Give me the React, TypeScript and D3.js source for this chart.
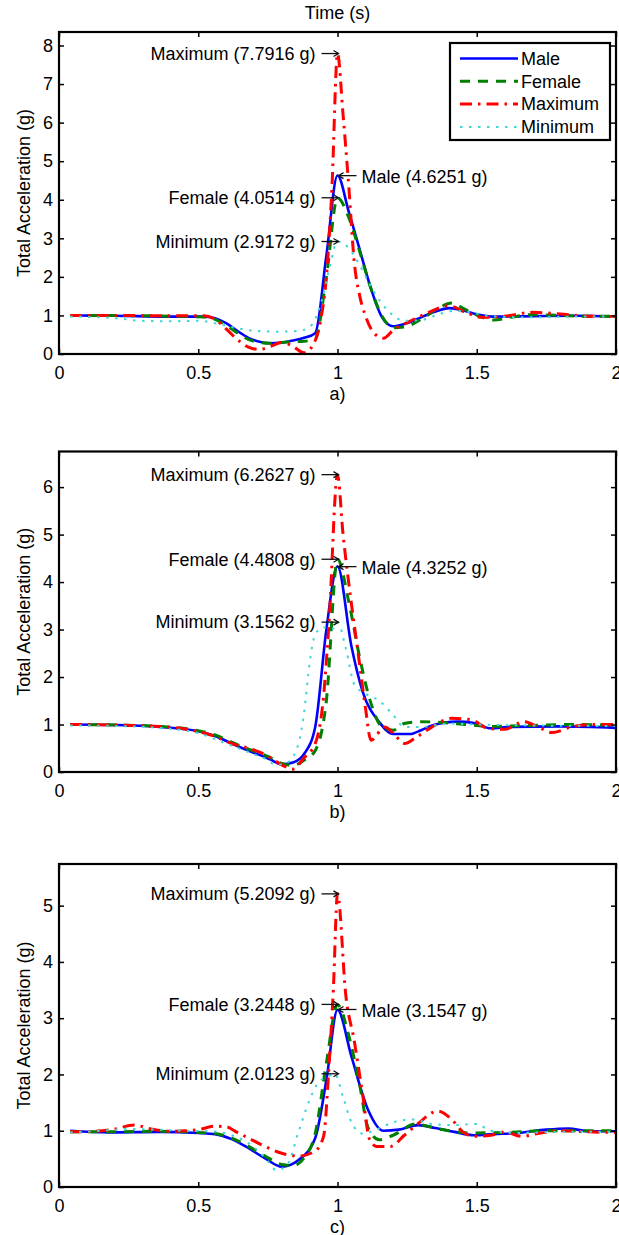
import React, { useEffect, useRef } from 'react';
import * as d3 from 'd3';

type Pt = [number, number];

// ---- panel a) ----
const aMale: Pt[] = [
  [0.04, 1.0], [0.2, 0.99], [0.4, 0.97], [0.52, 0.97], [0.56, 0.93], [0.6, 0.8], [0.64, 0.6],
  [0.68, 0.42], [0.72, 0.32], [0.76, 0.28], [0.8, 0.3], [0.84, 0.35], [0.88, 0.42], [0.92, 0.54],
  [0.96, 2.55], [1.0, 4.63], [1.04, 3.7], [1.08, 2.7], [1.12, 1.7], [1.16, 0.95], [1.2, 0.72],
  [1.24, 0.78], [1.3, 0.95], [1.36, 1.12], [1.4, 1.19], [1.44, 1.15], [1.5, 1.03], [1.56, 0.97],
  [1.7, 0.98], [1.85, 0.99], [2.0, 0.97],
];
const aFemale: Pt[] = [
  [0.04, 1.0], [0.2, 1.0], [0.4, 0.98], [0.52, 0.96], [0.56, 0.9], [0.6, 0.75], [0.64, 0.55],
  [0.68, 0.38], [0.72, 0.3], [0.76, 0.28], [0.8, 0.3], [0.84, 0.32], [0.88, 0.33], [0.92, 0.4],
  [0.96, 2.0], [1.0, 4.05], [1.04, 3.55], [1.08, 2.65], [1.12, 1.7], [1.16, 0.98], [1.2, 0.68],
  [1.24, 0.7], [1.3, 0.9], [1.36, 1.18], [1.41, 1.32], [1.46, 1.15], [1.52, 0.95], [1.56, 0.88],
  [1.62, 0.95], [1.7, 1.02], [1.8, 1.0], [1.9, 0.98], [2.0, 0.98],
];
const aMaximum: Pt[] = [
  [0.04, 1.0], [0.2, 1.0], [0.4, 0.99], [0.52, 0.99], [0.56, 0.9], [0.6, 0.65], [0.64, 0.38],
  [0.68, 0.18], [0.72, 0.12], [0.76, 0.2], [0.8, 0.3], [0.84, 0.2], [0.88, 0.03], [0.92, 0.35],
  [0.94, 0.9], [0.96, 2.0], [0.98, 4.3], [1.0, 7.79], [1.02, 6.2], [1.04, 4.4], [1.06, 2.4],
  [1.08, 1.5], [1.1, 1.0], [1.13, 0.55], [1.165, 0.41], [1.2, 0.62], [1.26, 0.85], [1.32, 1.05],
  [1.4, 1.25], [1.46, 1.08], [1.52, 0.95], [1.6, 0.98], [1.7, 1.08], [1.8, 1.04], [1.9, 0.98],
  [2.0, 0.97],
];
const aMinimum: Pt[] = [
  [0.04, 0.97], [0.2, 0.93], [0.3, 0.86], [0.4, 0.85], [0.5, 0.86], [0.56, 0.8], [0.62, 0.7],
  [0.7, 0.6], [0.78, 0.58], [0.86, 0.6], [0.9, 0.7], [0.94, 1.3], [0.97, 2.2], [1.0, 2.92],
  [1.04, 2.75], [1.08, 2.3], [1.12, 1.75], [1.16, 1.3], [1.2, 1.0], [1.24, 0.86], [1.3, 0.88],
  [1.36, 1.02], [1.42, 1.12], [1.48, 1.08], [1.55, 0.98], [1.7, 0.95], [1.85, 0.97], [2.0, 0.97],
];

// ---- panel b) ----
const bMale: Pt[] = [
  [0.04, 1.0], [0.2, 0.99], [0.36, 0.95], [0.5, 0.86], [0.56, 0.76], [0.62, 0.6], [0.68, 0.45],
  [0.72, 0.36], [0.76, 0.26], [0.8, 0.16], [0.84, 0.2], [0.88, 0.38], [0.92, 0.95], [0.96, 3.0],
  [1.0, 4.33], [1.05, 2.65], [1.09, 1.7], [1.15, 1.05], [1.2, 0.8], [1.26, 0.8], [1.3, 0.88],
  [1.34, 0.98], [1.43, 1.06], [1.49, 1.03], [1.55, 0.92], [1.62, 0.95], [1.8, 0.96], [2.0, 0.93],
];
const bFemale: Pt[] = [
  [0.04, 1.0], [0.2, 0.99], [0.36, 0.96], [0.5, 0.87], [0.56, 0.78], [0.62, 0.63], [0.68, 0.48],
  [0.72, 0.4], [0.76, 0.3], [0.8, 0.18], [0.84, 0.14], [0.88, 0.25], [0.92, 0.45], [0.96, 1.5],
  [1.0, 4.48], [1.04, 3.6], [1.08, 2.4], [1.12, 1.45], [1.16, 0.95], [1.2, 0.88], [1.24, 1.02],
  [1.3, 1.06], [1.38, 1.04], [1.46, 1.0], [1.55, 0.96], [1.7, 0.98], [1.85, 1.0], [2.0, 0.98],
];
const bMaximum: Pt[] = [
  [0.04, 1.0], [0.2, 0.99], [0.36, 0.96], [0.5, 0.85], [0.56, 0.75], [0.62, 0.6], [0.68, 0.5],
  [0.72, 0.42], [0.76, 0.3], [0.8, 0.15], [0.84, 0.06], [0.88, 0.3], [0.92, 0.6], [0.95, 1.6],
  [0.97, 3.2], [1.0, 6.26], [1.02, 5.0], [1.04, 4.0], [1.075, 2.46], [1.1, 1.37], [1.12, 0.67],
  [1.17, 0.95], [1.21, 0.75], [1.24, 0.6], [1.28, 0.72], [1.34, 0.95], [1.41, 1.13], [1.48, 1.1],
  [1.54, 0.92], [1.6, 0.9], [1.67, 1.06], [1.72, 0.95], [1.77, 0.83], [1.84, 0.95], [1.92, 1.0],
  [2.0, 1.0],
];
const bMinimum: Pt[] = [
  [0.04, 0.98], [0.2, 0.97], [0.36, 0.93], [0.5, 0.82], [0.6, 0.6], [0.68, 0.42], [0.74, 0.28],
  [0.78, 0.15], [0.82, 0.2], [0.86, 0.6], [0.88, 1.25], [0.9, 2.3], [0.92, 2.9], [0.95, 3.05],
  [0.98, 3.0], [1.0, 3.16], [1.03, 2.6], [1.06, 1.85], [1.1, 1.65], [1.15, 1.5], [1.2, 1.2],
  [1.24, 0.95], [1.3, 0.95], [1.4, 1.02], [1.5, 1.0], [1.7, 0.98], [2.0, 0.97],
];

// ---- panel c) ----
const cMale: Pt[] = [
  [0.04, 1.0], [0.18, 0.97], [0.36, 0.98], [0.5, 0.96], [0.56, 0.94], [0.62, 0.85], [0.67, 0.72],
  [0.74, 0.51], [0.8, 0.36], [0.86, 0.48], [0.92, 0.87], [0.96, 1.9], [1.0, 3.15], [1.05, 2.32],
  [1.11, 1.37], [1.165, 1.0], [1.22, 1.02], [1.29, 1.1], [1.35, 1.05], [1.42, 0.98], [1.49, 0.92],
  [1.56, 0.94], [1.65, 0.96], [1.75, 1.02], [1.83, 1.04], [1.9, 0.99], [2.0, 0.99],
];
const cFemale: Pt[] = [
  [0.04, 0.98], [0.18, 0.98], [0.36, 0.99], [0.5, 0.97], [0.56, 0.95], [0.62, 0.87], [0.67, 0.75],
  [0.74, 0.55], [0.8, 0.4], [0.84, 0.38], [0.88, 0.52], [0.92, 0.95], [0.96, 2.2], [1.0, 3.24],
  [1.04, 2.7], [1.08, 1.8], [1.11, 1.05], [1.15, 0.84], [1.2, 0.92], [1.28, 1.12], [1.34, 1.06],
  [1.4, 1.0], [1.48, 0.96], [1.6, 0.97], [1.75, 1.0], [1.9, 1.0], [2.0, 1.0],
];
const cMaximum: Pt[] = [
  [0.04, 0.98], [0.12, 0.99], [0.2, 1.03], [0.27, 1.1], [0.33, 1.03], [0.4, 0.99], [0.5, 1.02],
  [0.56, 1.08], [0.6, 1.07], [0.64, 0.97], [0.68, 0.87], [0.74, 0.72], [0.8, 0.6], [0.86, 0.55],
  [0.92, 0.64], [0.95, 0.9], [0.97, 2.2], [0.985, 3.5], [1.0, 5.21], [1.03, 3.4], [1.06, 2.6],
  [1.09, 1.65], [1.115, 0.85], [1.14, 0.72], [1.19, 0.72], [1.24, 0.92], [1.29, 1.13],
  [1.36, 1.35], [1.41, 1.2], [1.45, 0.98], [1.49, 0.9], [1.55, 0.92], [1.6, 0.98], [1.66, 0.9],
  [1.72, 0.95], [1.8, 1.0], [1.9, 0.98], [2.0, 0.97],
];
const cMinimum: Pt[] = [
  [0.04, 0.97], [0.15, 1.0], [0.25, 1.03], [0.35, 1.02], [0.45, 1.0], [0.55, 0.99], [0.62, 0.92],
  [0.68, 0.78], [0.74, 0.52], [0.78, 0.3], [0.82, 0.4], [0.86, 0.98], [0.9, 1.55], [0.93, 1.85],
  [0.96, 1.95], [0.99, 2.01], [1.02, 1.6], [1.05, 1.15], [1.09, 0.95], [1.13, 1.0], [1.2, 1.15],
  [1.27, 1.2], [1.34, 1.12], [1.42, 1.1], [1.5, 1.12], [1.55, 1.0], [1.65, 0.96], [1.8, 0.98],
  [2.0, 0.98],
];

const seriesNames = ['Male', 'Female', 'Maximum', 'Minimum'];
// peak values, in series order
const aPeaks = [4.6251, 4.0514, 7.7916, 2.9172];
const bPeaks = [4.3252, 4.4808, 6.2627, 3.1562];
const cPeaks = [3.1547, 3.2448, 5.2092, 2.0123];
const yMaxes = [8.35, 6.75, 5.74];
const xTicks = [0, 0.5, 1, 1.5, 2];
const panelLabels = ['a)', 'b)', 'c)'];

const FONT = '"Liberation Sans", Arial, Helvetica, sans-serif';

const styles = [
  { color: '#0000ff', dash: '', width: 2.6 },
  { color: '#008000', dash: '10,8', width: 3 },
  { color: '#ff0000', dash: '12,6,2.5,6', width: 3 },
  { color: '#3fd6d6', dash: '2.5,6.5', width: 2 },
];

const App = () => {
  const svgRef = useRef<SVGSVGElement>(null);

  useEffect(() => {
    const svg = d3.select(svgRef.current);
    svg.selectAll('*').remove();

    const left = 59;
    const right = 616;
    const x = d3.scaleLinear().domain([0, 2]).range([left, right]);

    const panels = [
      { top: 32, bottom: 354, series: [aMale, aFemale, aMaximum, aMinimum], peaks: aPeaks },
      { top: 451.5, bottom: 772, series: [bMale, bFemale, bMaximum, bMinimum], peaks: bPeaks },
      { top: 864, bottom: 1187, series: [cMale, cFemale, cMaximum, cMinimum], peaks: cPeaks },
    ];

    // title
    svg.append('text')
      .attr('x', x(1)).attr('y', 13).attr('dy', '0.35em')
      .attr('text-anchor', 'middle')
      .attr('font-family', FONT).attr('font-size', 18)
      .text('Time (s)');

    panels.forEach((p, i) => {
      const y = d3.scaleLinear().domain([0, yMaxes[i]]).range([p.bottom, p.top]);
      const g = svg.append('g');
      const yTicks = d3.range(0, Math.floor(yMaxes[i]) + 1);

      // curves
      const line = d3.line<Pt>()
        .x(d => x(d[0]))
        .y(d => y(d[1]))
        .curve(d3.curveMonotoneX);

      p.series.forEach((s, k) => {
        g.append('path')
          .attr('d', line(s))
          .attr('fill', 'none')
          .attr('stroke', styles[k].color)
          .attr('stroke-width', styles[k].width)
          .attr('stroke-dasharray', styles[k].dash || null)
          .attr('stroke-linejoin', 'round');
      });

      // axes (ticks point inward)
      const bottomAxis = g.append('g')
        .attr('transform', `translate(0, ${p.bottom})`)
        .call(d3.axisBottom(x).tickValues(xTicks).tickSizeInner(-5).tickSizeOuter(0)
          .tickPadding(12).tickFormat(d => String(d)));
      const leftAxis = g.append('g')
        .attr('transform', `translate(${left}, 0)`)
        .call(d3.axisLeft(y).tickValues(yTicks).tickSizeInner(-5).tickSizeOuter(0)
          .tickPadding(6).tickFormat(d => String(d)));
      const topAxis = g.append('g')
        .attr('transform', `translate(0, ${p.top})`)
        .call(d3.axisTop(x).tickValues(xTicks).tickSizeInner(-5).tickSizeOuter(0).tickFormat(() => ''));
      const rightAxis = g.append('g')
        .attr('transform', `translate(${right}, 0)`)
        .call(d3.axisRight(y).tickValues(yTicks).tickSizeInner(-5).tickSizeOuter(0).tickFormat(() => ''));

      [bottomAxis, leftAxis, topAxis, rightAxis].forEach(a => {
        a.select('.domain').remove();
        a.attr('font-family', FONT).attr('font-size', 18);
        a.selectAll('line').attr('stroke', '#000').attr('stroke-width', 1.5);
        a.selectAll('text').attr('fill', '#000');
      });

      // frame
      g.append('rect')
        .attr('x', left).attr('y', p.top)
        .attr('width', right - left).attr('height', p.bottom - p.top)
        .attr('fill', 'none').attr('stroke', '#000').attr('stroke-width', 2.2);

      // y label
      g.append('text')
        .attr('transform', `translate(24, ${(p.top + p.bottom) / 2}) rotate(-90)`)
        .attr('dy', '0.35em')
        .attr('text-anchor', 'middle')
        .attr('font-family', FONT).attr('font-size', 18)
        .text('Total Acceleration (g)');

      // panel label
      g.append('text')
        .attr('x', x(1)).attr('y', p.bottom + 40).attr('dy', '0.35em')
        .attr('text-anchor', 'middle')
        .attr('font-family', FONT).attr('font-size', 18)
        .text(panelLabels[i]);

      // peak annotations
      const tip = x(1) + 1;
      p.peaks.forEach((v, k) => {
        const yy = y(v);
        const label = `${seriesNames[k]} (${v.toFixed(4)} g)`;
        const isRight = k === 0;
        const x0 = isRight ? tip + 18 : tip - 17;
        const dir = isRight ? 1 : -1;
        g.append('line')
          .attr('x1', x0).attr('y1', yy).attr('x2', tip).attr('y2', yy)
          .attr('stroke', '#111').attr('stroke-width', 1.3);
        g.append('path')
          .attr('d', `M${tip + dir * 5},${yy - 3}L${tip},${yy}L${tip + dir * 5},${yy + 3}`)
          .attr('fill', 'none').attr('stroke', '#111').attr('stroke-width', 1.3);
        g.append('text')
          .attr('x', isRight ? x0 + 5 : x0 - 6)
          .attr('y', yy + (isRight ? 1 : 0)).attr('dy', '0.35em')
          .attr('text-anchor', isRight ? 'start' : 'end')
          .attr('font-family', FONT).attr('font-size', 18)
          .text(label);
      });

      // legend only in the first panel
      if (i === 0) {
        const lg = g.append('g');
        lg.append('rect')
          .attr('x', 450).attr('y', 43).attr('width', 160).attr('height', 97)
          .attr('fill', '#fff').attr('stroke', '#000').attr('stroke-width', 2.2);
        seriesNames.forEach((name, k) => {
          const ly = 58.5 + k * 22.8;
          lg.append('line')
            .attr('x1', 460).attr('x2', 518).attr('y1', ly).attr('y2', ly)
            .attr('stroke', styles[k].color)
            .attr('stroke-width', styles[k].width)
            .attr('stroke-dasharray', styles[k].dash || null);
          lg.append('text')
            .attr('x', 521).attr('y', ly).attr('dy', '0.35em')
            .attr('font-family', FONT).attr('font-size', 18)
            .text(name);
        });
      }
    });
  }, []);

  return (
    <svg
      ref={svgRef}
      width={619}
      height={1235}
      style={{ position: 'absolute', left: 0, top: 0, background: '#fff' }}
    />
  );
};

export default App;
